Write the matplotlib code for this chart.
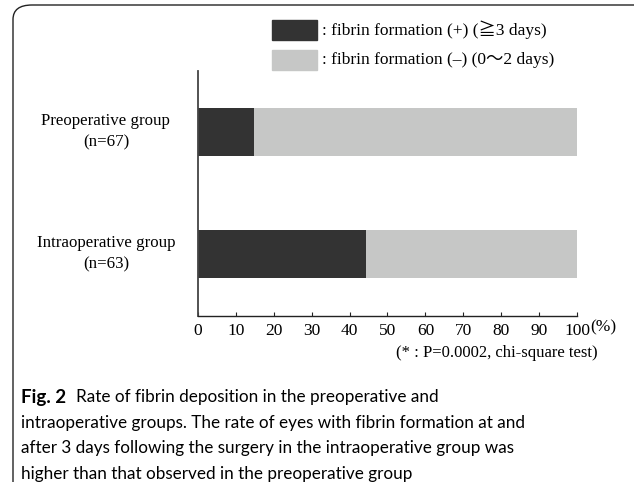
import numpy as np
import matplotlib
matplotlib.use("Agg")
import matplotlib.pyplot as plt
from matplotlib.patches import FancyBboxPatch

# data
groups = ["Preoperative group\n(n=67)", "Intraoperative group\n(n=63)"]
fibrin_pos = [14.9, 44.4]       # fibrin formation (+) (>=3 days), %
fibrin_neg = [85.1, 55.6]       # fibrin formation (-) (0-2 days), %
xticks = [0, 10, 20, 30, 40, 50, 60, 70, 80, 90, 100]

dark = "#333333"
light = "#c6c7c6"
serif = "Liberation Serif"
serif_list = [serif, "Noto Sans CJK JP", "DejaVu Sans"]
W, H = 634, 482

fig = plt.figure(figsize=(W / 100, H / 100), dpi=100)

# rounded frame on the left / top
frame = FancyBboxPatch((13 / W, -20 / H), 700 / W, (H - 5 + 20) / H,
                       boxstyle="round,pad=0,rounding_size=0.03",
                       transform=fig.transFigure, fill=False,
                       edgecolor="#222222", linewidth=1.0)
fig.patches.append(frame)

ax = fig.add_axes([198 / W, 1 - 316 / H, (577 - 198) / W, (316 - 71) / H])
y = np.arange(len(groups))
ax.barh(y, fibrin_pos, height=0.4, color=dark)
ax.barh(y, fibrin_neg, left=fibrin_pos, height=0.4, color=light)
ax.set_xlim(0, 100)
ax.set_ylim(1.508, -0.5)

for s in ["top", "right"]:
    ax.spines[s].set_visible(False)
ax.spines["left"].set_color("#444444")
ax.spines["bottom"].set_color("#222222")
ax.spines["left"].set_linewidth(1.3)
ax.spines["bottom"].set_linewidth(1.0)

ax.set_xticks(xticks)
ax.set_xticklabels([str(t) for t in xticks], family=serif, fontsize=12.5)
ax.tick_params(axis="x", direction="in", length=3, pad=5, color="#222222")
ax.set_yticks([])

# group labels
for yi, g in zip(y, groups):
    ax.text(-0.243, yi, g, transform=ax.get_yaxis_transform(), ha="center",
            va="center", family=serif, fontsize=12.2, linespacing=1.45)

fig.text(590 / W, 1 - 327 / H, "(%)", family=serif, fontsize=12.5, va="center")
fig.text(598 / W, 1 - 353 / H, "(* : P=0.0002, chi-square test)",
         family=serif, fontsize=12, ha="right", va="center")

# legend
fig.patches.append(plt.Rectangle((272 / W, 1 - 40 / H), 45 / W, 20 / H,
                                 transform=fig.transFigure, color=dark))
fig.patches.append(plt.Rectangle((272 / W, 1 - 70 / H), 45 / W, 20 / H,
                                 transform=fig.transFigure, color=light))
fig.text(322 / W, 1 - 30 / H, ": fibrin formation (+) (\u22673 days)",
         family=serif_list, fontsize=12.5, va="center")
fig.text(322 / W, 1 - 60 / H, ": fibrin formation (\u2013) (0\u301c2 days)",
         family=serif_list, fontsize=12.5, va="center")

# caption
cap = "Lato"
fs = 12.3
fig.text(21 / W, 1 - 397 / H, "Fig. 2", family=cap, fontsize=13.5,
         weight="bold", va="center")
fig.text(76 / W, 1 - 397 / H,
         "Rate of fibrin deposition in the preoperative and",
         family=cap, fontsize=fs, va="center")
lines = ["intraoperative groups. The rate of eyes with fibrin formation at and",
         "after 3 days following the surgery in the intraoperative group was",
         "higher than that observed in the preoperative group"]
for i, ln in enumerate(lines):
    fig.text(21 / W, 1 - (423 + 25.5 * i) / H, ln, family=cap,
             fontsize=fs, va="center")

fig.savefig("out.png", dpi=100)
